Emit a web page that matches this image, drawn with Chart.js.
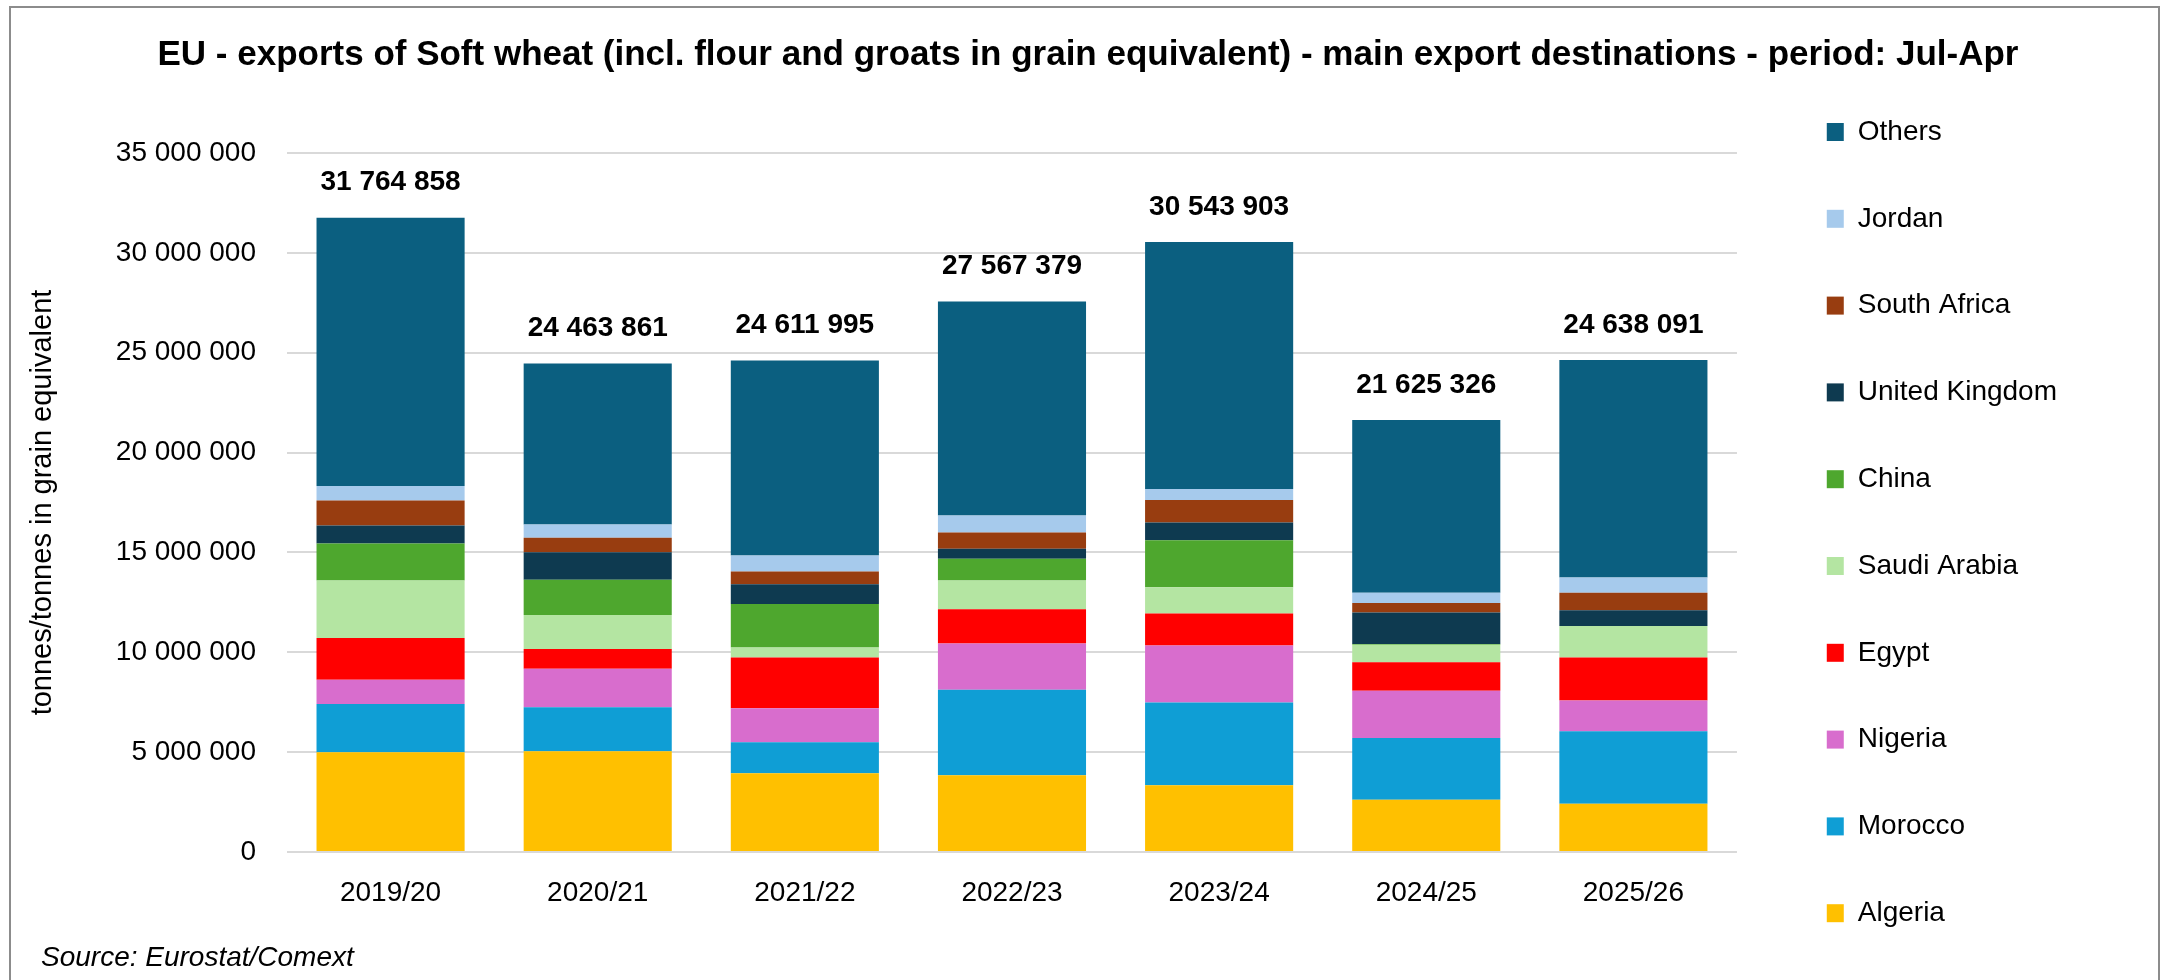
<!DOCTYPE html>
<html>
<head>
<meta charset="utf-8">
<script src="https://cdn.jsdelivr.net/npm/chart.js@4.4.1/dist/chart.umd.min.js"></script>
<style>
  body { margin: 0; background: #fff; }
  #wrap { position: relative; width: 2168px; height: 980px; overflow: hidden; }
  #frame { position: absolute; left: 9px; top: 6px; width: 2147px; height: 1000px; border: 2px solid #8c8c8c; pointer-events: none; }
  #source { position: absolute; left: 41px; top: 943px; font: italic 28px 'Liberation Sans', Arial, sans-serif; line-height: 28px; color: #000; }
</style>
</head>
<body>
<div id="wrap">
  <canvas id="chart"></canvas>
  <div id="frame"></div>
  <div id="source">Source: Eurostat/Comext</div>
</div>
<script>
const seasons = ['2019/20', '2020/21', '2021/22', '2022/23', '2023/24', '2024/25', '2025/26'];
const totals = [31764858, 24463861, 24611995, 27567379, 30543903, 21625326, 24638091];

// tonnes (bottom to top)
const algeria = [4990000, 5040000, 3940000, 3840000, 3340000, 2620000, 2420000];
const morocco = [2420000, 2210000, 1550000, 4290000, 4140000, 3090000, 3630000];
const nigeria = [1210000, 1920000, 1710000, 2310000, 2860000, 2360000, 1530000];
const egypt = [2100000, 1000000, 2540000, 1720000, 1600000, 1430000, 2160000];
const saudiArabia = [2870000, 1700000, 500000, 1430000, 1320000, 880000, 1580000];
const china = [1860000, 1760000, 2180000, 1090000, 2350000, 40000, 0];
const unitedKingdom = [900000, 1380000, 990000, 500000, 890000, 1570000, 790000];
const southAfrica = [1250000, 720000, 630000, 820000, 1130000, 480000, 870000];
const jordan = [720000, 670000, 810000, 850000, 550000, 510000, 760000];
const others = [13440000, 8060000, 9760000, 10720000, 12360000, 8650000, 10900000];

const yTicks = [0, 5000000, 10000000, 15000000, 20000000, 25000000, 30000000, 35000000];

function fmt(v) {
    return String(Math.round(v)).replace(/\B(?=(\d{3})+(?!\d))/g, ' ');
}

Chart.defaults.font.family = "'Liberation Sans', Arial, sans-serif";
Chart.defaults.color = '#000';

// totals written above each stack
const totalLabels = {
    id: 'totalLabels',
    afterDatasetsDraw(chart) {
        const ctx = chart.ctx;
        const x = chart.scales.x;
        const y = chart.scales.y;
        ctx.save();
        ctx.font = "bold 28px 'Liberation Sans', Arial, sans-serif";
        ctx.fillStyle = '#000';
        ctx.textAlign = 'center';
        ctx.textBaseline = 'middle';
        totals.forEach((t, i) => {
            ctx.fillText(fmt(t), x.getPixelForValue(i), y.getPixelForValue(t) - 35);
        });
        ctx.restore();
    }
};

function ds(label, data, color) {
    return { label: label, data: data, backgroundColor: color, borderWidth: 0 };
}

new Chart(document.getElementById('chart'), {
    type: 'bar',
    data: {
        labels: seasons,
        datasets: [
            ds('Algeria', algeria, '#FFC000'),
            ds('Morocco', morocco, '#0F9ED5'),
            ds('Nigeria', nigeria, '#D86DCD'),
            ds('Egypt', egypt, '#FF0000'),
            ds('Saudi Arabia', saudiArabia, '#B4E5A2'),
            ds('China', china, '#4EA72E'),
            ds('United Kingdom', unitedKingdom, '#0E3A50'),
            ds('South Africa', southAfrica, '#983D10'),
            ds('Jordan', jordan, '#A6CAEC'),
            ds('Others', others, '#0B5F80')
        ]
    },
    options: {
        responsive: true,
        maintainAspectRatio: false,
        animation: false,
        // bottom is negative so the legend column can reach down to Algeria
        layout: { padding: { left: 109, right: 101, top: 0, bottom: -10 } },
        datasets: { bar: { categoryPercentage: 1, barPercentage: 0.715 } },
        scales: {
            x: {
                stacked: true,
                afterFit: s => { s.height = 138; },
                grid: { display: false },
                border: { display: false },
                ticks: { font: { size: 28 }, color: '#000', padding: 16 }
            },
            y: {
                stacked: true,
                min: 0,
                max: 35000000,
                afterBuildTicks: s => { s.ticks = yTicks.map(v => ({ value: v })); },
                afterFit: s => { s.width = 178; },
                grid: { color: '#D9D9D9', lineWidth: 2, drawTicks: false },
                border: { display: false },
                ticks: { font: { size: 28 }, color: '#000', padding: 31, callback: v => fmt(v) },
                title: {
                    display: true,
                    text: 'tonnes/tonnes in grain equivalent',
                    font: { size: 29 },
                    color: '#000',
                    padding: { top: -83, bottom: 0 }
                }
            },
            gap: {
                position: 'right',
                display: true,
                grid: { display: false },
                border: { display: false },
                ticks: { display: false },
                afterFit: s => { s.width = 31; }
            }
        },
        plugins: {
            title: {
                display: true,
                text: 'EU - exports of Soft wheat (incl. flour and groats in grain equivalent) - main export destinations - period: Jul-Apr',
                font: { size: 35, weight: 'bold' },
                color: '#000',
                padding: { top: 34, bottom: 77 }
            },
            legend: {
                position: 'right',
                align: 'start',
                reverse: true,
                title: { display: true, text: '', padding: { top: 44.8, bottom: 0 } },
                labels: {
                    font: { size: 28 },
                    color: '#000',
                    boxWidth: 17,
                    boxHeight: 18,
                    padding: 58.8
                }
            },
            tooltip: { enabled: false }
        }
    },
    plugins: [totalLabels]
});
</script>
</body>
</html>
